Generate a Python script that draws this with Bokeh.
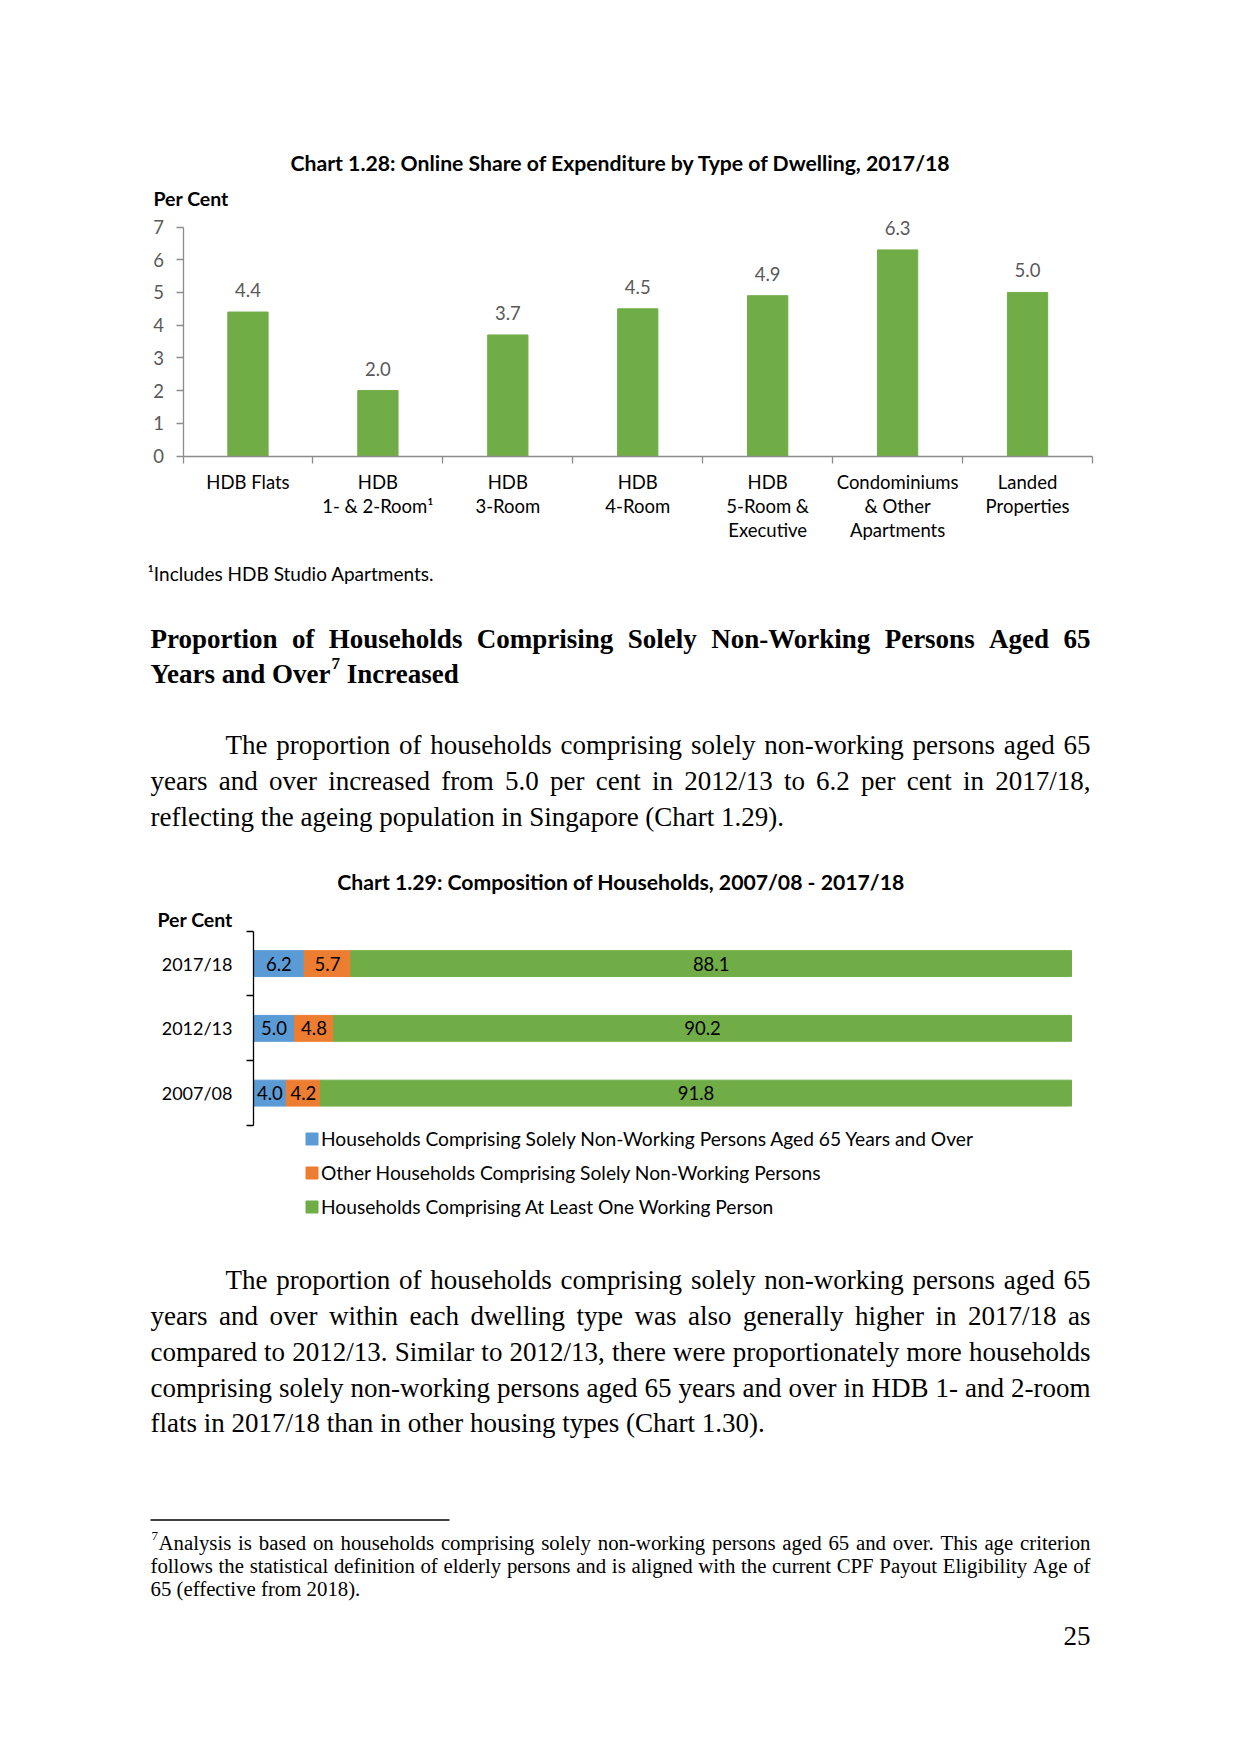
import os
import glob
import subprocess
import numpy as np
from bokeh.plotting import figure
from bokeh.models import (Range1d, FixedTicker, LinearAxis, ColumnDataSource,
                          LabelSet, Legend, LegendItem)
from bokeh.embed import file_html
from bokeh.resources import INLINE
from bokeh.core.properties import value

# ---------------- data: Chart 1.28 ----------------
dwelling_types = ["HDB Flats", "HDB\n1- & 2-Room\u00b9", "HDB\n3-Room", "HDB\n4-Room",
                  "HDB\n5-Room &\nExecutive", "Condominiums\n& Other\nApartments",
                  "Landed\nProperties"]
online_share = [4.4, 2.0, 3.7, 4.5, 4.9, 6.3, 5.0]
share_ticks = [0, 1, 2, 3, 4, 5, 6, 7]

# ---------------- data: Chart 1.29 ----------------
years = ["2007/08", "2012/13", "2017/18"]
aged65_only = [4.0, 5.0, 6.2]
other_nonworking = [4.2, 4.8, 5.7]
with_worker = [91.8, 90.2, 88.1]
composition_labels = ["Households Comprising Solely Non-Working Persons Aged 65 Years and Over",
                      "Other Households Comprising Solely Non-Working Persons",
                      "Households Comprising At Least One Working Person"]
composition_colors = ["#5B9BD5", "#ED7D31", "#70AD47"]

# ---------------- page texts ----------------
title_128 = "Chart 1.28: Online Share of Expenditure by Type of Dwelling, 2017/18"
title_129 = "Chart 1.29: Composition of Households, 2007/08 - 2017/18"
unit_label = "Per Cent"
chart_note = "\u00b9Includes HDB Studio Apartments."
heading_line1 = "Proportion of Households Comprising Solely Non-Working Persons Aged 65"
heading_line2_a = "Years and Over"
heading_sup = "7"
heading_line2_b = "Increased"
para1_lines = [
    "The proportion of households comprising solely non-working persons aged 65",
    "years and over increased from 5.0 per cent in 2012/13 to 6.2 per cent in 2017/18,",
    "reflecting the ageing population in Singapore (Chart 1.29).",
]
para2_lines = [
    "The proportion of households comprising solely non-working persons aged 65",
    "years and over within each dwelling type was also generally higher in 2017/18 as",
    "compared to 2012/13. Similar to 2012/13, there were proportionately more households",
    "comprising solely non-working persons aged 65 years and over in HDB 1- and 2-room",
    "flats in 2017/18 than in other housing types (Chart 1.30).",
]
foot_lines = [
    "Analysis is based on households comprising solely non-working persons aged 65 and over. This age criterion",
    "follows the statistical definition of elderly persons and is aligned with the current CPF Payout Eligibility Age of",
    "65 (effective from 2018).",
]
page_number = "25"

# ---------------- styling / layout (page pixel units) ----------------
PAGE_W, PAGE_H = 1225, 1738
X0, Y0 = 0, 0                      # page offset of the canvas
SANS = "Lato"
SERIF = "Liberation Serif"
CH_SIZE = "18.5px"
TITLE_SIZE = "21.2px"
GREEN = "#70AD47"
GREY_TXT = "#595959"
AXIS_GREY = "#8C8C8C"
LEFT, RIGHT, INDENT = 150, 1090, 225
BODY = 27
FOOT = 20.8


def _font_file(style):
    try:
        r = subprocess.run(["fc-match", "-f", "%{file}", f"{SERIF}:style={style}"],
                           capture_output=True, text=True, timeout=20)
        path = r.stdout.strip()
        if path and os.path.exists(path):
            return path
    except Exception:
        pass
    name = {"Regular": "LiberationSerif-Regular.ttf", "Bold": "LiberationSerif-Bold.ttf"}[style]
    hits = glob.glob("/usr/share/fonts/**/" + name, recursive=True)
    return hits[0] if hits else None


def make_measure(style, size):
    try:
        from PIL import ImageFont
        font = ImageFont.truetype(_font_file(style), 200)
        return lambda s: font.getlength(s) * size / 200.0
    except Exception:
        return lambda s: 0.46 * size * len(s)


def layout_line(text, x0, x1, measure, justify):
    if not justify:
        return [text], [x0]
    words = text.split(" ")
    widths = [measure(w) for w in words]
    gap = (x1 - x0 - sum(widths)) / max(len(words) - 1, 1)
    xs, x = [], x0
    for w in widths:
        xs.append(x)
        x += w + gap
    return words, xs


def span_range(d0, d1, p0, p1, lo, hi):
    """Range whose data values d0/d1 land on page pixels p0/p1, spanning page lo..hi."""
    k = (d1 - d0) / (p1 - p0)
    return Range1d(d0 + (lo - p0) * k, d0 + (hi - p0) * k)


p = figure(width=PAGE_W, height=PAGE_H, x_range=Range1d(X0, X0 + PAGE_W),
           y_range=Range1d(Y0 + PAGE_H, Y0), min_border=0, toolbar_location=None,
           output_backend="svg", x_axis_location=None, y_axis_location=None)
p.grid.visible = False
p.outline_line_color = None

n1 = len(dwelling_types)
p.extra_x_ranges = {
    "c1x": span_range(0, n1, 182.5, 1092, X0, X0 + PAGE_W),
    "c2x": span_range(0, 100, 253, 1071, X0, X0 + PAGE_W),
}
p.extra_y_ranges = {
    "c1y": span_range(0, 7, 455.5, 226.5, Y0 + PAGE_H, Y0),
    "c2y": span_range(-0.5, len(years) - 0.5, 1125, 930.7, Y0 + PAGE_H, Y0),
}


def put(xs, ys, texts, font, size, style="normal", color="black", align="left",
        baseline="alphabetic"):
    src = ColumnDataSource(dict(x=list(xs), y=list(ys), text=list(texts)))
    p.text(x="x", y="y", text="text", source=src, text_font=value(font),
           text_font_size=size, text_font_style=style, text_color=color,
           text_align=align, text_baseline=baseline)


def put_paragraph(lines, baselines, size, style="Regular", first_x0=LEFT):
    m = make_measure(style, size)
    X, Y, T = [], [], []
    for i, (line, yb) in enumerate(zip(lines, baselines)):
        x0 = first_x0 if i == 0 else LEFT
        words, xs = layout_line(line, x0, RIGHT, m, i < len(lines) - 1)
        X += xs
        Y += [yb] * len(words)
        T += words
    put(X, Y, T, SERIF, f"{size}px", "bold" if style == "Bold" else "normal")


# ================= Chart 1.28 =================
put([620.5], [162], [title_128], SANS, TITLE_SIZE, "bold", align="center")
put([153], [198], [unit_label], SANS, "19.5px", "bold")

centers = [i + 0.5 for i in range(n1)]
p.vbar(x=centers, top=online_share, width=0.31, color=GREEN,
       x_range_name="c1x", y_range_name="c1y")

yax1 = LinearAxis(x_range_name="c1x", y_range_name="c1y", fixed_location=0,
                  ticker=FixedTicker(ticks=share_ticks), bounds=(share_ticks[0], share_ticks[-1]),
                  axis_line_color=AXIS_GREY, axis_line_width=1.3,
                  major_tick_line_color=AXIS_GREY, major_tick_line_width=1.3,
                  major_tick_out=7, major_tick_in=0, minor_tick_out=0, minor_tick_in=0,
                  major_label_text_font=SANS, major_label_text_font_size=CH_SIZE,
                  major_label_text_color=GREY_TXT, major_label_standoff=12)
p.add_layout(yax1, "left")

xax1 = LinearAxis(x_range_name="c1x", y_range_name="c1y", fixed_location=0,
                  ticker=FixedTicker(ticks=centers, minor_ticks=list(range(n1 + 1))),
                  bounds=(0, n1),
                  major_label_overrides={c: d for c, d in zip(centers, dwelling_types)},
                  axis_line_color=AXIS_GREY, axis_line_width=1.3,
                  major_tick_out=0, major_tick_in=0,
                  minor_tick_out=7, minor_tick_in=0, minor_tick_line_color=AXIS_GREY,
                  minor_tick_line_width=1.3,
                  major_label_text_font=SANS, major_label_text_font_size=CH_SIZE,
                  major_label_text_color="black", major_label_standoff=8,
                  major_label_text_line_height=1.1)
p.add_layout(xax1, "below")

lab1 = ColumnDataSource(dict(x=centers, y=online_share, t=[f"{v:.1f}" for v in online_share]))
p.add_layout(LabelSet(x="x", y="y", text="t", source=lab1, y_offset=15,
                      x_range_name="c1x", y_range_name="c1y",
                      text_align="center", text_baseline="alphabetic",
                      text_font=value(SANS), text_font_size=CH_SIZE, text_color=GREY_TXT))

put([147], [573], [chart_note], SANS, "19px")

# ================= heading & paragraph 1 =================
mb = make_measure("Bold", BODY)
hw, hx = layout_line(heading_line1, LEFT, RIGHT, mb, True)
put(hx, [638] * len(hw), hw, SERIF, f"{BODY}px", "bold")
sup_size = 17
x_sup = LEFT + mb(heading_line2_a) + 1
x_after = x_sup + make_measure("Bold", sup_size)(heading_sup) + mb(" ")
put([LEFT, x_after], [673, 673], [heading_line2_a, heading_line2_b], SERIF, f"{BODY}px", "bold")
put([x_sup], [663], [heading_sup], SERIF, f"{sup_size}px", "bold")
put_paragraph(para1_lines, [744, 780, 816], BODY, first_x0=INDENT)

# ================= Chart 1.29 =================
put([620.5], [881], [title_129], SANS, TITLE_SIZE, "bold", align="center")
put([157], [919], [unit_label], SANS, "19.5px", "bold")

ypos = list(range(len(years)))
src2 = ColumnDataSource(dict(y=ypos, a=aged65_only, o=other_nonworking, w=with_worker))
rs = p.hbar_stack(["a", "o", "w"], y="y", height=0.4, color=composition_colors, source=src2,
                  x_range_name="c2x", y_range_name="c2y")

yax2 = LinearAxis(x_range_name="c2x", y_range_name="c2y", fixed_location=0,
                  ticker=FixedTicker(ticks=ypos, minor_ticks=[q - 0.5 for q in ypos] + [ypos[-1] + 0.5]),
                  bounds=(ypos[0] - 0.5, ypos[-1] + 0.5),
                  major_label_overrides={q: y for q, y in zip(ypos, years)},
                  axis_line_color="black", axis_line_width=1.3,
                  major_tick_out=0, major_tick_in=0,
                  minor_tick_out=7, minor_tick_in=0, minor_tick_line_color="black",
                  minor_tick_line_width=1.3,
                  major_label_text_font=SANS, major_label_text_font_size="18px",
                  major_label_text_color="black", major_label_standoff=14)
p.add_layout(yax2, "left")

a = np.array(aged65_only)
o = np.array(other_nonworking)
w = np.array(with_worker)
seg_x = np.concatenate([a / 2, a + o / 2, a + o + w / 2])
seg_y = ypos * 3
seg_t = [f"{v:.1f}" for v in np.concatenate([a, o, w])]
p.add_layout(LabelSet(x="x", y="y", text="t",
                      source=ColumnDataSource(dict(x=seg_x, y=seg_y, t=seg_t)),
                      x_range_name="c2x", y_range_name="c2y",
                      text_align="center", text_baseline="middle",
                      text_font=value(SANS), text_font_size=CH_SIZE, text_color="black"))

legend = Legend(items=[LegendItem(label=n, renderers=[r]) for n, r in zip(composition_labels, rs)],
                location=(304 - X0, PAGE_H + Y0 - 1217.5), orientation="vertical",
                padding=0, margin=0, border_line_color=None, background_fill_alpha=0,
                glyph_width=15, glyph_height=15, label_standoff=2, spacing=11,
                label_height=22, label_text_font=SANS, label_text_font_size="19.2px",
                label_text_color="black")
p.add_layout(legend)

# ================= paragraph 2, footnote, page number =================
put_paragraph(para2_lines, [1279, 1315, 1351, 1387, 1422], BODY, first_x0=INDENT)
p.segment(x0=[LEFT], y0=[1519.5], x1=[449], y1=[1519.5], line_color="black", line_width=1.5)
put([151], [1535], ["7"], SERIF, "13px")
mf = make_measure("Regular", FOOT)
X, Y, T = [], [], []
for i, (line, yb) in enumerate(zip(foot_lines, [1542, 1565, 1588])):
    x0 = 158 if i == 0 else LEFT
    ws, xs = layout_line(line, x0, RIGHT, mf, i < len(foot_lines) - 1)
    X += xs
    Y += [yb] * len(ws)
    T += ws
put(X, Y, T, SERIF, f"{FOOT}px")
put([RIGHT], [1635], [page_number], SERIF, f"{BODY}px", align="right")

open("out.html", "w").write(file_html(p, INLINE))
